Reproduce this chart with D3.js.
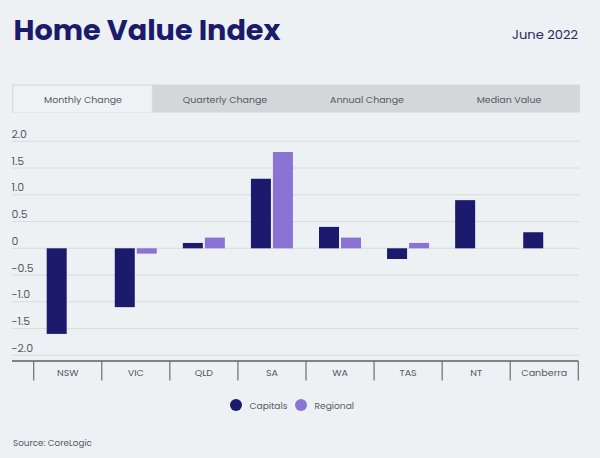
<!DOCTYPE html>
<html>
<head>
<meta charset="utf-8">
<script src="https://cdn.jsdelivr.net/npm/d3@7"></script>
<style>
  html, body { margin: 0; padding: 0; background: #edf1f4; }
  svg { display: block; }
  text { font-family: "Poppins", "Inter", "Noto Sans", sans-serif; }
</style>
</head>
<body>
<svg id="chart" width="600" height="458"></svg>
<script>
const categories = ["NSW", "VIC", "QLD", "SA", "WA", "TAS", "NT", "Canberra"];
const seriesNames = ["Capitals", "Regional"];
const capitals = [-1.6, -1.1, 0.1, 1.3, 0.4, -0.2, 0.9, 0.3];
const regional = [0, -0.1, 0.2, 1.8, 0.2, 0.1, 0, 0];
const yTicks = [2.0, 1.5, 1.0, 0.5, 0, -0.5, -1.0, -1.5, -2.0];
const tabs = ["Monthly Change", "Quarterly Change", "Annual Change", "Median Value"];
const colors = ["#1b1a6d", "#8b73d3"];

const svg = d3.select("#chart");
svg.append("rect").attr("width", 600).attr("height", 458).attr("fill", "#edf1f4");

// scale font size of a selection so that its first node has the target width
function fit(sel, target) {
  const n = sel.node();
  const fs = parseFloat(sel.attr("font-size"));
  const w = n.getComputedTextLength();
  if (w > 0) sel.attr("font-size", (fs * target / w).toFixed(2));
  return sel;
}

// Title
const title = svg.append("text").attr("x", 13.5).attr("y", 40)
  .attr("font-size", 31).attr("font-weight", 700).attr("fill", "#1b1a6b")
  .text("Home Value Index");
fit(title, 267);
const date = svg.append("text").attr("x", 578).attr("y", 39).attr("text-anchor", "end")
  .attr("font-size", 13.5).attr("fill", "#2a2a5c")
  .text("June 2022");
fit(date, 66);

// Tabs
const tabScale = d3.scaleBand().domain(tabs).range([12, 580]);
svg.append("rect").attr("x", 12).attr("y", 84.5).attr("width", 568).attr("height", 28)
  .attr("fill", "#d4d7da").attr("rx", 1);
svg.append("rect").attr("x", 13).attr("y", 85.7).attr("width", tabScale.bandwidth() - 3).attr("height", 26.8)
  .attr("fill", "#eef2f5").attr("stroke", "#e2e6e9").attr("stroke-width", 0.8);
const tabText = svg.selectAll("text.tab").data(tabs).join("text").attr("class", "tab")
  .attr("x", d => tabScale(d) + tabScale.bandwidth() / 2)
  .attr("y", 102.5).attr("text-anchor", "middle")
  .attr("font-size", 11).attr("fill", "#555a60")
  .text(d => d);
{
  const w = tabText.node().getComputedTextLength();
  tabText.attr("font-size", (11 * 78 / w).toFixed(2));
}

// Scales
const y = d3.scaleLinear().domain([-2, 2]).range([355.3, 141.3]);
const x0 = d3.scaleBand().domain(categories).range([33.7, 578.3]);
const x1 = d3.scaleBand().domain(seriesNames).range([13, 55]).paddingInner(2 / 22);

// Gridlines and y labels
const g = svg.append("g");
g.selectAll("line.grid").data(yTicks).join("line").attr("class", "grid")
  .attr("x1", 12).attr("x2", 579)
  .attr("y1", d => y(d)).attr("y2", d => y(d))
  .attr("stroke", "#d8dcdf").attr("stroke-width", 1);
const yl = g.selectAll("text.ylab").data(yTicks).join("text").attr("class", "ylab")
  .attr("x", 11.5).attr("y", d => y(d) - 3.5)
  .attr("font-size", 11).attr("fill", "#555a60")
  .text(d => d === 0 ? "0" : d3.format(".1f")(d).replace("−", "-"));
{
  const n = yl.filter(d => d === 2).node();
  const w = n.getComputedTextLength();
  yl.attr("font-size", (11 * 15.5 / w).toFixed(2));
}

// Bars
const data = categories.map((c, i) => ({ cat: c, vals: [capitals[i], regional[i]] }));
const groups = svg.append("g").selectAll("g").data(data).join("g")
  .attr("transform", d => `translate(${x0(d.cat)},0)`);
groups.selectAll("rect").data(d => d.vals.map((v, j) => ({ key: seriesNames[j], v, j })))
  .join("rect")
  .attr("x", d => x1(d.key))
  .attr("width", x1.bandwidth())
  .attr("y", d => Math.min(y(d.v), y(0)))
  .attr("height", d => Math.abs(y(d.v) - y(0)))
  .attr("fill", d => colors[d.j]);

// X axis
const axisY = 361;
svg.append("line").attr("x1", 12).attr("x2", 578.3).attr("y1", axisY).attr("y2", axisY)
  .attr("stroke", "#5a5e63").attr("stroke-width", 1.5);
const xAxis = d3.axisBottom(x0).tickSize(0).tickPadding(0);
const ax = svg.append("g").attr("transform", `translate(0,${axisY})`).call(xAxis);
ax.select(".domain").remove();
const xl = ax.selectAll("text").attr("dy", null).attr("y", 14.5)
  .attr("font-size", 11).attr("fill", "#555a60")
  .attr("font-family", "Poppins, Inter, 'Noto Sans', sans-serif");
{
  const n = xl.filter(d => d === "Canberra").node();
  const w = n.getComputedTextLength();
  xl.attr("font-size", (11 * 46 / w).toFixed(2));
}
const bounds = categories.map(c => x0(c)).concat([x0(categories[categories.length - 1]) + x0.bandwidth()]);
svg.selectAll("line.tick").data(bounds).join("line").attr("class", "tick")
  .attr("x1", d => d).attr("x2", d => d).attr("y1", axisY).attr("y2", 380.5)
  .attr("stroke", "#6a6e73").attr("stroke-width", 1.2);

// Legend
const legend = svg.append("g");
const legX = [236, 301];
let legFs = null;
seriesNames.forEach((s, i) => {
  legend.append("circle").attr("cx", legX[i]).attr("cy", 405).attr("r", 6).attr("fill", colors[i]);
  const t = legend.append("text").attr("x", legX[i] + 13.5).attr("y", 408.5).attr("font-size", 11)
    .attr("fill", "#555a60").text(s);
  if (i === 0) { fit(t, 38); legFs = t.attr("font-size"); } else t.attr("font-size", legFs);
});

// Source
const src = svg.append("text").attr("x", 13).attr("y", 445.5).attr("font-size", 10.5).attr("fill", "#555a60")
  .text("Source: CoreLogic");
fit(src, 79);
</script>
</body>
</html>
